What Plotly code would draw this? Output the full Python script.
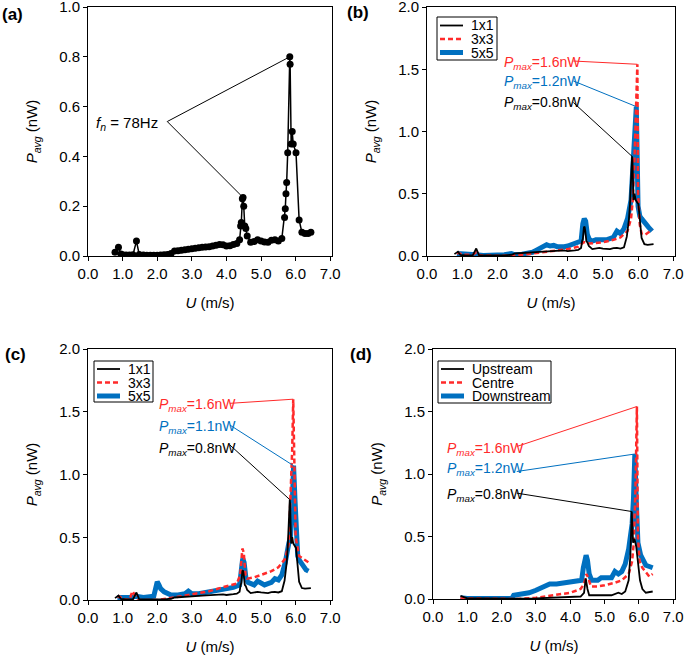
import plotly.graph_objects as go

# ---- data ----
# (a) and the 1x1 curve in (b), (c)
u_1x1 = [0.78, 0.88, 0.95, 1.0, 1.1, 1.2, 1.3, 1.4, 1.48,
         1.6, 1.7, 1.8, 1.9, 2.0, 2.1, 2.2, 2.3, 2.4,
         2.5, 2.6, 2.7, 2.8, 2.9, 3.0, 3.1, 3.2, 3.3, 3.4, 3.5, 3.6, 3.7, 3.8, 3.9, 4.0, 4.1, 4.2, 4.3,
         4.38, 4.41, 4.43, 4.46, 4.48, 4.5, 4.53, 4.56, 4.6,
         4.7, 4.8, 4.9, 5.0, 5.1, 5.2, 5.3, 5.4, 5.5, 5.6,
         5.68, 5.7, 5.72, 5.74, 5.77,
         5.83, 5.84, 5.87, 5.9, 5.93, 6.01,
         6.1, 6.18, 6.27, 6.36, 6.44]
p_1x1 = [0.015, 0.035, 0.008, 0.005, 0.004, 0.004, 0.005, 0.06, 0.006,
         0.004, 0.003, 0.003, 0.003, 0.003, 0.004, 0.005, 0.006, 0.01,
         0.02, 0.021, 0.023, 0.025, 0.027, 0.029, 0.031, 0.033, 0.035, 0.036, 0.037, 0.04, 0.043, 0.046, 0.045, 0.04, 0.041, 0.046, 0.05,
         0.065, 0.12, 0.135, 0.23, 0.235, 0.2, 0.12, 0.11, 0.08,
         0.055, 0.058, 0.065, 0.06, 0.056, 0.055, 0.063, 0.065, 0.06, 0.07,
         0.155, 0.19, 0.25, 0.295, 0.415,
         0.8, 0.77, 0.45, 0.5, 0.45, 0.415,
         0.145, 0.095, 0.09, 0.09, 0.095]

# (b) 3x3 and 5x5
u_b_3x3 = [0.85, 0.9, 1.0, 1.3, 1.4, 1.5, 2.0, 2.5, 3.0, 3.5, 4.0, 4.3, 4.45, 4.5, 4.6, 5.0, 5.3,
           5.5, 5.7, 5.8, 5.85, 5.9, 5.94, 5.98, 6.0, 6.05, 6.1, 6.2, 6.3, 6.4]
p_b_3x3 = [0.02, 0.025, 0.01, 0.01, 0.03, 0.005, 0.002, 0.005, 0.02, 0.035, 0.055, 0.075, 0.11, 0.11, 0.1, 0.11, 0.13,
           0.15, 0.2, 0.3, 0.45, 0.8, 1.2, 1.54, 0.5, 0.25, 0.18, 0.17, 0.19, 0.21]
u_b_5x5 = [0.85, 0.9, 1.0, 1.2, 1.4, 1.6, 1.8, 2.0, 2.2, 2.4, 2.5, 2.7, 2.9, 3.0, 3.1, 3.2, 3.3, 3.4,
           3.5, 3.6, 3.7, 3.8, 3.9, 4.0, 4.1, 4.2, 4.3, 4.38, 4.43, 4.47, 4.51, 4.56, 4.62, 4.7, 4.8, 4.9, 5.0,
           5.1, 5.2, 5.3, 5.4, 5.5, 5.6, 5.7, 5.8, 5.85, 5.9, 5.95, 6.0, 6.05, 6.1, 6.2, 6.3, 6.4]
p_b_5x5 = [0.02, 0.02, 0.01, 0.01, 0.01, 0.005, 0.005, 0.01, 0.01, 0.02, 0.01, 0.015, 0.02, 0.03, 0.045, 0.06, 0.07, 0.09,
           0.08, 0.085, 0.075, 0.07, 0.075, 0.08, 0.09, 0.1, 0.105, 0.12, 0.26, 0.3, 0.28, 0.17, 0.13, 0.12, 0.13, 0.13, 0.125,
           0.13, 0.14, 0.15, 0.2, 0.18, 0.22, 0.3, 0.45, 0.7, 0.9, 1.2, 0.4, 0.32, 0.3, 0.26, 0.23, 0.2]

# (c) 3x3 and 5x5
u_c_3x3 = [0.85, 0.9, 1.0, 1.2, 1.28, 1.35, 1.45, 1.6, 2.0, 2.5, 3.0, 3.5, 4.0, 4.3, 4.4, 4.46, 4.5,
           4.55, 4.6, 4.8, 5.0, 5.3, 5.5, 5.7, 5.8, 5.85, 5.9, 5.93, 5.96, 6.0, 6.1, 6.2, 6.37]
p_c_3x3 = [0.02, 0.03, 0.01, 0.0, 0.07, 0.04, 0.0, 0.0, 0.0, 0.02, 0.045, 0.07, 0.11, 0.13, 0.2, 0.41, 0.38,
           0.2, 0.17, 0.18, 0.2, 0.23, 0.26, 0.33, 0.45, 0.8, 1.2, 1.6, 1.0, 0.5, 0.35, 0.33, 0.3]
u_c_5x5 = [0.85, 1.0, 1.2, 1.4, 1.6, 1.9, 1.95, 2.0, 2.05, 2.1, 2.2, 2.3, 2.4, 2.6, 2.8, 2.9, 3.0, 3.2, 3.4,
           3.6, 3.8, 4.0, 4.2, 4.38, 4.43, 4.47, 4.51, 4.56, 4.62, 4.7, 4.8, 4.9, 5.0, 5.1, 5.2, 5.3, 5.4, 5.5,
           5.6, 5.7, 5.8, 5.85, 5.9, 5.94, 5.98, 6.02, 6.06, 6.1, 6.2, 6.3, 6.37]
p_c_5x5 = [0.02, 0.02, 0.02, 0.03, 0.02, 0.03, 0.09, 0.145, 0.12, 0.09, 0.065, 0.05, 0.04, 0.04, 0.05, 0.07, 0.05, 0.05, 0.06,
           0.07, 0.08, 0.09, 0.1, 0.12, 0.28, 0.33, 0.3, 0.18, 0.14, 0.13, 0.12, 0.15, 0.14, 0.12, 0.13, 0.14, 0.17, 0.16,
           0.2, 0.3, 0.45, 0.5, 0.75, 1.07, 0.8, 0.45, 0.35, 0.32, 0.28, 0.24, 0.23]

# (d) upstream / centre / downstream
u_up = [0.8, 0.9, 1.0, 1.5, 2.0, 2.5, 3.0, 3.5, 4.0, 4.3, 4.4, 4.45, 4.5, 4.55, 4.7, 5.0, 5.2, 5.4,
        5.5, 5.6, 5.7, 5.75, 5.79, 5.83, 5.87, 5.92, 5.97, 6.03, 6.1, 6.2, 6.4]
p_up = [0.025, 0.015, 0.005, 0.005, 0.002, 0.003, 0.005, 0.01, 0.015, 0.02, 0.05, 0.165, 0.08, 0.03, 0.03, 0.03, 0.03, 0.05,
        0.04, 0.06, 0.15, 0.35, 0.7, 0.45, 0.48, 0.42, 0.3, 0.15, 0.08, 0.05, 0.06]
u_centre = [0.8, 1.0, 1.5, 2.0, 2.5, 3.0, 3.5, 4.0, 4.3, 4.4, 4.47, 4.52, 4.6, 4.8, 5.0, 5.3, 5.5, 5.7,
            5.8, 5.85, 5.9, 5.94, 5.97, 6.02, 6.1, 6.2, 6.3, 6.4]
p_centre = [0.01, 0.005, 0.003, 0.0, 0.0, 0.01, 0.03, 0.05, 0.08, 0.12, 0.2, 0.17, 0.1, 0.1, 0.11, 0.13, 0.15, 0.2,
            0.3, 0.45, 0.9, 1.54, 0.5, 0.3, 0.25, 0.21, 0.18, 0.2]
u_down = [0.8, 1.0, 1.5, 2.0, 2.3, 2.35, 2.5, 2.6, 2.8, 3.0, 3.2, 3.4, 3.6, 3.8, 4.0, 4.2, 4.33, 4.38, 4.42,
          4.46, 4.5, 4.55, 4.62, 4.8, 4.9, 5.0, 5.1, 5.2, 5.3, 5.4, 5.5, 5.6, 5.7, 5.8, 5.84, 5.88, 5.92, 5.97,
          6.05, 6.1, 6.2, 6.3, 6.4]
p_down = [0.01, 0.005, 0.005, 0.005, 0.005, 0.03, 0.035, 0.04, 0.05, 0.07, 0.1, 0.12, 0.12, 0.13, 0.14, 0.14, 0.15, 0.25, 0.33,
          0.35, 0.31, 0.2, 0.15, 0.15, 0.17, 0.17, 0.16, 0.17, 0.22, 0.2, 0.22, 0.28, 0.4, 0.6, 0.8, 1.16, 0.8, 0.45,
          0.35, 0.32, 0.27, 0.26, 0.25]

x_ticks = [0, 1, 2, 3, 4, 5, 6, 7]

W, H = 685, 657
BLACK = "black"
RED = "#FF2A2A"
BLUE = "#0070C0"
FONT = "Liberation Sans, Arial, sans-serif"
RED_DASH = "5px,3px"

fig = go.Figure()


def add_line(u, p, color, width, dash, name, ax):
    fig.add_trace(go.Scatter(
        x=u, y=p, mode="lines", name=name, showlegend=False,
        line=dict(color=color, width=width, dash=dash),
        xaxis="x" + ax, yaxis="y" + ax,
    ))
    return fig.data[-1]


# (a)
fig.add_trace(go.Scatter(
    x=u_1x1, y=p_1x1, mode="lines+markers", showlegend=False,
    line=dict(color=BLACK, width=1.5), marker=dict(color=BLACK, size=7),
))

# (b)  blue drawn first so black/red sit on top
b5 = add_line(u_b_5x5, p_b_5x5, BLUE, 5, "solid", "5x5", "2")
b3 = add_line(u_b_3x3, p_b_3x3, RED, 2.5, RED_DASH, "3x3", "2")
b1 = add_line(u_1x1, p_1x1, BLACK, 1.8, "solid", "1x1", "2")

# (c)
c5 = add_line(u_c_5x5, p_c_5x5, BLUE, 5, "solid", "5x5", "3")
c3 = add_line(u_c_3x3, p_c_3x3, RED, 2.5, RED_DASH, "3x3", "3")
c1 = add_line(u_1x1, p_1x1, BLACK, 1.8, "solid", "1x1", "3")

# (d)
d5 = add_line(u_down, p_down, BLUE, 5, "solid", "Downstream", "4")
d3 = add_line(u_centre, p_centre, RED, 2.5, RED_DASH, "Centre", "4")
d1 = add_line(u_up, p_up, BLACK, 1.8, "solid", "Upstream", "4")

# ---- axes ----
axis_style = dict(
    showline=True, linecolor="black", linewidth=1, mirror=True,
    ticks="outside", ticklen=4, tickwidth=1, tickcolor="black",
    showgrid=False, zeroline=False, automargin=False, ticklabeloverflow="allow",
    tickfont=dict(size=15, color="black", family=FONT),
)
x_title = dict(text="<i>U</i> (m/s)", font=dict(size=15, color="black", family=FONT), standoff=16)
y_title = dict(text="<i>P</i><sub><i>avg</i></sub> (nW)", font=dict(size=15, color="black", family=FONT), standoff=17)

domains = {
    "": ([88 / W, 332 / W], [1 - 256 / H, 1 - 7 / H]),
    "2": ([427 / W, 675 / W], [1 - 256 / H, 1 - 7 / H]),
    "3": ([88 / W, 332 / W], [1 - 600 / H, 1 - 349 / H]),
    "4": ([433 / W, 675 / W], [1 - 599 / H, 1 - 349 / H]),
}
layout_axes = {}
for key, (xd, yd) in domains.items():
    layout_axes["xaxis" + key] = dict(
        axis_style, domain=xd, anchor="y" + key, range=[0, 7.05],
        tickvals=x_ticks, tickformat=".1f", title=x_title,
    )
    ymax = 1.0 if key == "" else 2.0
    ystep = 0.2 if key == "" else 0.5
    layout_axes["yaxis" + key] = dict(
        axis_style, domain=yd, anchor="x" + key, range=[0, ymax],
        dtick=ystep, tick0=0, tickformat=".1f", title=y_title,
    )
fig.update_layout(**layout_axes)

annotations = []
shapes = []


# ---- boxed legends (compact, Igor style) ----
def legend_box(x0, y0, x1, y1, rows, traces, text_x):
    shapes.append(dict(type="rect", xref="paper", yref="paper",
                       x0=x0 / W, x1=x1 / W, y0=1 - y0 / H, y1=1 - y1 / H,
                       line=dict(color="black", width=1), fillcolor="white", layer="above"))
    for ry, tr in zip(rows, traces):
        shapes.append(dict(type="line", xref="paper", yref="paper",
                           x0=(x0 + 3) / W, x1=(x0 + 26) / W, y0=1 - ry / H, y1=1 - ry / H,
                           line=dict(color=tr.line.color, width=tr.line.width, dash=tr.line.dash)))
        annotations.append(dict(xref="paper", yref="paper", x=text_x / W, y=1 - ry / H,
                                text=tr.name, xanchor="left", yanchor="middle", showarrow=False,
                                font=dict(size=14, color="black", family=FONT)))


legend_box(437, 17, 497, 60, [25.5, 39, 52.5], [b1, b3, b5], 469)
legend_box(94, 361, 153, 402, [369, 382.5, 396], [c1, c3, c5], 126)
legend_box(438, 361, 551, 403, [369, 382.5, 396], [d1, d3, d5], 470)


# ---- peak labels with leader lines ----
def peak(u, p, lo=0, hi=10):
    pts = [(pv, uv) for uv, pv in zip(u, p) if lo <= uv <= hi]
    pv, uv = max(pts)
    return uv, pv


def label(ax, text, color, x_left, x_end, y_text, y_line, target):
    annotations.append(dict(
        xref="x" + ax, yref="y" + ax, x=x_left, y=y_text, text=text,
        xanchor="left", yanchor="middle", showarrow=False, yshift=-2,
        font=dict(size=14, color=color, family=FONT),
    ))
    shapes.append(dict(
        type="line", xref="x" + ax, yref="y" + ax,
        x0=x_end, y0=y_line, x1=target[0], y1=target[1],
        line=dict(color=color, width=1),
    ))


pmax = "<i>P</i><sub><i>max</i></sub>"
label("2", pmax + "=1.6nW", RED, 2.12, 4.16, 1.566, 1.566, peak(u_b_3x3, p_b_3x3))
label("2", pmax + "=1.2nW", BLUE, 2.12, 4.16, 1.41, 1.406, peak(u_b_5x5, p_b_5x5))
label("2", pmax + "=0.8nW", BLACK, 2.12, 4.16, 1.246, 1.233, peak(u_1x1, p_1x1))

label("3", pmax + "=1.6nW", RED, 1.98, 4.1, 1.567, 1.567, peak(u_c_3x3, p_c_3x3))
label("3", pmax + "=1.1nW", BLUE, 1.98, 4.1, 1.394, 1.394, peak(u_c_5x5, p_c_5x5))
label("3", pmax + "=0.8nW", BLACK, 1.98, 4.1, 1.222, 1.235, peak(u_1x1, p_1x1))

label("4", pmax + "=1.6nW", RED, 0.36, 2.44, 1.22, 1.22, peak(u_centre, p_centre))
label("4", pmax + "=1.2nW", BLUE, 0.36, 2.44, 1.06, 1.02, peak(u_down, p_down))
label("4", pmax + "=0.8nW", BLACK, 0.36, 2.44, 0.847, 0.847, peak(u_up, p_up))

# (a) natural-frequency label pointing at both peaks
annotations.append(dict(
    xref="x", yref="y", x=2.08, y=0.54, text="<i>f</i><sub><i>n</i></sub> = 78Hz",
    xanchor="right", yanchor="middle", showarrow=False, yshift=-2,
    font=dict(size=15, color=BLACK, family=FONT),
))
for tgt in (peak(u_1x1, p_1x1), peak(u_1x1, p_1x1, 4.0, 5.0)):
    shapes.append(dict(
        type="line", xref="x", yref="y", x0=2.29, y0=0.54, x1=tgt[0], y1=tgt[1],
        line=dict(color=BLACK, width=1),
    ))

# panel letters
for txt, xp, yp in (("(a)", 0, 14), ("(b)", 345, 12.5), ("(c)", 3, 354), ("(d)", 348, 354)):
    annotations.append(dict(
        xref="paper", yref="paper", x=xp / W, y=1 - yp / H, text="<b>" + txt + "</b>",
        xanchor="left", yanchor="middle", showarrow=False,
        font=dict(size=17, color="black", family=FONT),
    ))

fig.update_layout(
    template="none",
    annotations=annotations,
    shapes=shapes,
    showlegend=False,
    width=W,
    height=H,
    margin=dict(l=0, r=0, t=0, b=0),
    paper_bgcolor="white",
    plot_bgcolor="white",
    font=dict(family=FONT, color="black"),
)

# the page's default 8px body margin would push the figure off the window
fig.write_html(
    "out.html",
    config={"displayModeBar": False},
    post_script="document.body.style.margin='0';",
)
